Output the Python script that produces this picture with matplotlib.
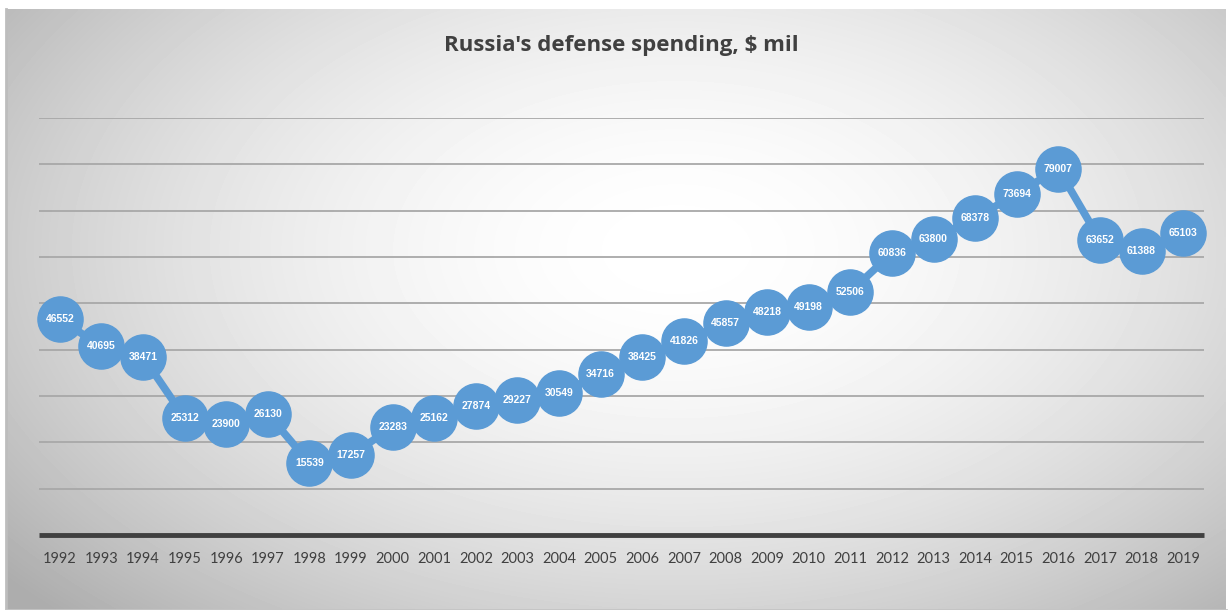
import numpy as np
import matplotlib
matplotlib.use("Agg")
import matplotlib.pyplot as plt

years = [str(y) for y in range(1992, 2020)]
spending = [46552, 40695, 38471, 25312, 23900, 26130, 15539, 17257, 23283, 25162,
            27874, 29227, 30549, 34716, 38425, 41826, 45857, 48218, 49198, 52506,
            60836, 63800, 68378, 73694, 79007, 63652, 61388, 65103]
title = "Russia's defense spending, $ mil"

W, H, DPI = 1229, 610, 100
fig = plt.figure(figsize=(W / DPI, H / DPI), dpi=DPI)
fig.patch.set_facecolor("white")

# background panel with radial gradient
x0, y0, x1, y1 = 6, 9, 1226, 610
bg = fig.add_axes([x0 / W, 1 - y1 / H, (x1 - x0) / W, (y1 - y0) / H])
bg.set_axis_off()
nx, ny = 400, 200
xx, yy = np.meshgrid(np.linspace(0, 1, nx), np.linspace(0, 1, ny))
cx, cy = 0.55, 0.40
r = np.sqrt(((xx - cx) / 0.62) ** 2 + ((yy - cy) / 0.75) ** 2)
val = 1.0 - 0.25 * np.clip(r, 0, 1.15) ** 1.8
bg.imshow(val, cmap="gray", vmin=0, vmax=1, extent=[0, 1, 1, 0], aspect="auto",
          interpolation="bilinear")
bg.set_xlim(0, 1)
bg.set_ylim(1, 0)
bg.plot([0, 0], [0, 1], color="#bdbdbd", lw=2, transform=bg.transAxes, clip_on=False)
bg.plot([0, 1], [0, 0], color="#c4c4c4", lw=2, transform=bg.transAxes, clip_on=False)

# main axes
px0, px1 = 39, 1204
py_top, py_bot = 118, 535
ax = fig.add_axes([px0 / W, 1 - py_bot / H, (px1 - px0) / W, (py_bot - py_top) / H])
ax.patch.set_alpha(0)
x = np.arange(len(years))
ax.set_xlim(-0.5, len(years) - 0.5)
ax.set_ylim(0, 90000)
for v in range(10000, 90001, 10000):
    ax.axhline(v, color="#a8a8a8", lw=1.3, zorder=1)
ax.axhline(0, color="#404040", lw=3.5, zorder=2, clip_on=False, solid_capstyle="butt")
for s in ax.spines.values():
    s.set_visible(False)
ax.set_yticks([])
ax.set_xticks(x)
ax.set_xticklabels(years, fontsize=10.5, color="#404040", family=["Lato", "DejaVu Sans"])
ax.tick_params(axis="x", length=0, pad=12)

ax.plot(x, spending, color="#5b9bd5", lw=5.5, marker="o", markersize=32.5,
        markerfacecolor="#5b9bd5", markeredgecolor="#5b9bd5", zorder=3, clip_on=False,
        solid_capstyle="round")
for xi, v in zip(x, spending):
    ax.text(xi, v, f"{v}", ha="center", va="center", color="white", fontsize=7.5,
            fontweight="bold", family=["Liberation Sans Narrow", "Liberation Sans", "DejaVu Sans"],
            zorder=4)

fig.text(621 / W, 1 - 46 / H, title, ha="center", va="center", fontsize=16,
         fontweight="bold", color="#404040", family=["Open Sans", "DejaVu Sans"])

fig.savefig("out.png", dpi=DPI)
